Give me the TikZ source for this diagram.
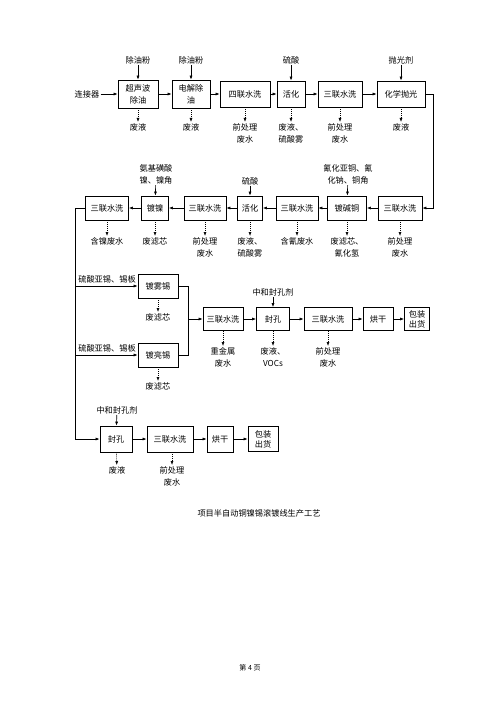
\documentclass[tikz,border=0pt]{standalone}
\usepackage{fontspec}
\setmainfont{Noto Sans CJK SC}
\usetikzlibrary{arrows.meta}

\begin{document}
\begin{tikzpicture}[x=1pt, y=-1pt, >={Latex[length=4pt,width=3pt]},
    font=\fontsize{8.2}{12}\selectfont,
    proc/.style={draw, line width=0.8pt, minimum height=24pt, inner sep=1pt, align=center},
    flow/.style={->, line width=0.65pt},
    drain/.style={->, line width=0.55pt, dash pattern=on 1pt off 1pt},
    lbl/.style={inner sep=1pt, align=center},
    pack/.style={proc, font=\fontsize{8.2}{9.8}\selectfont}]
    \useasboundingbox[fill=white] (0,0) rectangle (500,706);
    % row 1: pretreatment
    \node[lbl] (src) at (87,94) {连接器};
    \node[proc, minimum width=40pt, minimum height=28pt] (a1) at (138,94) {超声波\\除油};
    \node[proc, minimum width=38pt, minimum height=28pt] (a2) at (191,94) {电解除\\油};
    \node[proc, minimum width=50pt, minimum height=26pt] (a3) at (245,94) {四联水洗};
    \node[proc, minimum width=28pt, minimum height=26pt] (a4) at (291,94) {活化};
    \node[proc, minimum width=44pt, minimum height=26pt] (a5) at (340,94) {三联水洗};
    \node[proc, minimum width=48pt, minimum height=26pt] (a6) at (401,94) {化学抛光};
    \node[lbl] (ia1) at (138,60) {除油粉};
    \node[lbl] (ia2) at (191,60) {除油粉};
    \node[lbl] (ia4) at (291,60) {硫酸};
    \node[lbl] (ia6) at (401,60) {抛光剂};
    \node[lbl, anchor=north] (oa1) at (138,122) {废液};
    \node[lbl, anchor=north] (oa2) at (191,122) {废液};
    \node[lbl, anchor=north] (oa3) at (245,122) {前处理\\废水};
    \node[lbl, anchor=north] (oa4) at (291,122) {废液、\\硫酸雾};
    \node[lbl, anchor=north] (oa5) at (340,122) {前处理\\废水};
    \node[lbl, anchor=north] (oa6) at (401,122) {废液};
    \draw[flow] (src) -- (a1);
    \draw[flow] (a1) -- (a2);
    \draw[flow] (a2) -- (a3);
    \draw[flow] (a3) -- (a4);
    \draw[flow] (a4) -- (a5);
    \draw[flow] (a5) -- (a6);
    \foreach \n in {1,2,4,6} \draw[flow] (ia\n) -- (a\n);
    \foreach \n in {1,...,6} \draw[drain] (a\n) -- (oa\n);
    % row 2: copper and nickel
    \node[proc, minimum width=44pt] (c1) at (400,208) {三联水洗};
    \node[proc, minimum width=39pt] (c2) at (347,208) {镀碱铜};
    \node[proc, minimum width=42pt] (c3) at (297,208) {三联水洗};
    \node[proc, minimum width=25pt] (c4) at (250,208) {活化};
    \node[proc, minimum width=42pt] (c5) at (205,208) {三联水洗};
    \node[proc, minimum width=27pt] (c6) at (155,208) {镀镍};
    \node[proc, minimum width=43pt] (c7) at (107,208) {三联水洗};
    \node[lbl] (ic2) at (348,174) {氰化亚铜、氰\\化钠、铜角};
    \node[lbl] (ic4) at (250,181) {硫酸};
    \node[lbl] (ic6) at (156,174) {氨基磺酸\\镍、镍角};
    \node[lbl, anchor=north] (oc1) at (400,236) {前处理\\废水};
    \node[lbl, anchor=north] (oc2) at (347,236) {废滤芯、\\氰化氢};
    \node[lbl, anchor=north] (oc3) at (297,236) {含氰废水};
    \node[lbl, anchor=north] (oc4) at (250,236) {废液、\\硫酸雾};
    \node[lbl, anchor=north] (oc5) at (205,236) {前处理\\废水};
    \node[lbl, anchor=north] (oc6) at (155,236) {废滤芯};
    \node[lbl, anchor=north] (oc7) at (107,236) {含镍废水};
    \draw[flow] (a6.east) -- ++(8,0) |- (c1.east);
    \draw[flow] (c1) -- (c2);
    \draw[flow] (c2) -- (c3);
    \draw[flow] (c3) -- (c4);
    \draw[flow] (c4) -- (c5);
    \draw[flow] (c5) -- (c6);
    \draw[flow] (c6) -- (c7);
    \foreach \n in {2,4,6} \draw[flow] (ic\n) -- (c\n);
    \foreach \n in {1,...,7} \draw[drain] (c\n) -- (oc\n);
    % row 3: tin plating
    \coordinate (trunk) at (75,208);
    \coordinate (mg) at (188,319);
    \node[proc, minimum width=40pt] (s1) at (158,286) {镀雾锡};
    \node[proc, minimum width=40pt] (s2) at (158,355) {镀亮锡};
    \node[lbl, anchor=south] (is1) at (107,284) {硫酸亚锡、锡板};
    \node[lbl, anchor=south] (is2) at (107,353) {硫酸亚锡、锡板};
    \node[lbl, anchor=north] (os1) at (158,312) {废滤芯};
    \node[lbl, anchor=north] (os2) at (158,381) {废滤芯};
    \node[proc, minimum width=40pt, minimum height=23pt] (d1) at (223,319) {三联水洗};
    \node[proc, minimum width=33pt, minimum height=23pt] (d2) at (273,319) {封孔};
    \node[proc, minimum width=48pt, minimum height=23pt] (d3) at (328,319) {三联水洗};
    \node[proc, minimum width=30pt, minimum height=23pt] (d4) at (378,319) {烘干};
    \node[pack, minimum width=25pt, minimum height=23pt] (d5) at (417,319) {包装\\出货};
    \node[lbl] (id2) at (273,292) {中和封孔剂};
    \node[lbl, anchor=north] (od1) at (223,346) {重金属\\废水};
    \node[lbl, anchor=north] (od2) at (273,346) {废液、\\VOCs};
    \node[lbl, anchor=north] (od3) at (328,346) {前处理\\废水};
    \draw[flow] (s1.west -| trunk) -- (s1.west);
    \draw[flow] (s2.west -| trunk) -- (s2.west);
    \draw[line width=0.65pt] (s1.east) -| (mg);
    \draw[line width=0.65pt] (s2.east) -| (mg);
    \draw[flow] (mg) -- (d1);
    \draw[drain] (s1) -- (os1);
    \draw[drain] (s2) -- (os2);
    \draw[flow] (d1) -- (d2);
    \draw[flow] (d2) -- (d3);
    \draw[flow] (d3) -- (d4);
    \draw[flow] (d4) -- (d5);
    \draw[flow] (id2) -- (d2);
    \foreach \n in {1,2,3} \draw[drain] (d\n) -- (od\n);
    % row 4: sealing only
    \node[proc, minimum width=32pt, minimum height=26pt] (e1) at (116,439) {封孔};
    \node[proc, minimum width=46pt, minimum height=26pt] (e2) at (170,439) {三联水洗};
    \node[proc, minimum width=26pt, minimum height=26pt] (e3) at (220,439) {烘干};
    \node[pack, minimum width=30pt, minimum height=25pt] (e4) at (263,439) {包装\\出货};
    \node[lbl] (ie1) at (117,410) {中和封孔剂};
    \node[lbl, anchor=north] (oe1) at (117,465) {废液};
    \node[lbl, anchor=north] (oe2) at (172,465) {前处理\\废水};
    \draw[flow] (c7.west) -- (trunk) |- (e1.west);
    \draw[flow] (ie1) -- (e1);
    \draw[flow] (e1) -- (e2);
    \draw[flow] (e2) -- (e3);
    \draw[flow] (e3) -- (e4);
    \draw[drain] (e1) -- (oe1);
    \draw[drain] (e2.south -| oe2) -- (oe2);
    % caption
    \node[lbl] (cap) at (259,513) {项目半自动铜镍锡滚镀线生产工艺};
    \node[lbl, font=\fontsize{7}{8}\selectfont] (pg) at (250,668) {第 4 页};
\end{tikzpicture}
\end{document}
